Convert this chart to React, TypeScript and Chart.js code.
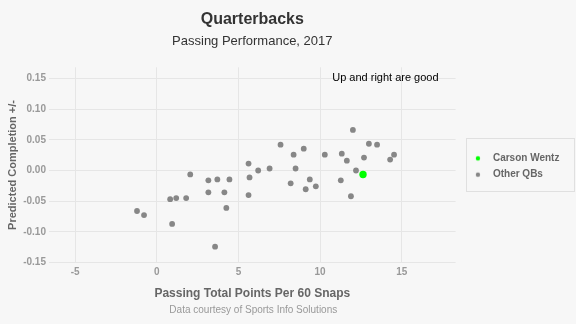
import React, { useEffect, useRef } from 'react';
import { Chart, registerables } from 'chart.js';

Chart.register(...registerables);

// ---- data ----
const otherX = [2.05, 3.16, 3.71, 4.45, 3.16, 4.14, 5.62, 6.21, 5.68, 5.62, 0.82, 1.19, 1.8, -1.21, -0.78, 0.94, 4.26, 3.57,
  12.01, 7.58, 9.0, 8.38, 10.29, 11.33, 11.64, 12.99, 13.49, 12.69, 14.53, 14.29, 12.2, 6.91, 8.5, 8.2, 9.37, 9.12, 9.74, 11.27, 11.89];
const otherY = [-0.0065, -0.016, -0.0145, -0.0145, -0.0355, -0.0355, 0.0113, 0.0, -0.0113, -0.04, -0.0468, -0.045, -0.045, -0.066, -0.0726, -0.087, -0.061, -0.124,
  0.066, 0.042, 0.0355, 0.0258, 0.0258, 0.0274, 0.016, 0.0435, 0.042, 0.021, 0.0258, 0.0177, 0.0, 0.0032, 0.0032, -0.021, -0.0145, -0.0306, -0.0258, -0.016, -0.042];
const wentzX = [12.63];
const wentzY = [-0.0065];
const seriesNames = ['Carson Wentz', 'Other QBs'];
const xTicks = [-5, 0, 5, 10, 15];
const yTicks = [-0.15, -0.1, -0.05, 0, 0.05, 0.1, 0.15];
const titleText = 'Quarterbacks';
const subtitleText = 'Passing Performance, 2017';
const xTitle = 'Passing Total Points Per 60 Snaps';
const yTitle = 'Predicted Completion +/-';
const captionText = 'Data courtesy of Sports Info Solutions';
const noteText = 'Up and right are good';
const notePos = { x: 14, y: 0.15 };

const FONT = "'Liberation Sans', Arial, sans-serif";
const GREEN = '#00ff00';
const GRAY = '#878787';
const LEG_W = 26; // legend marker slot width
const LEG_DOT = LEG_W - 10; // dot centre inside slot

function dotImage(color: string, r: number) {
  const c = document.createElement('canvas');
  c.width = LEG_W;
  c.height = 8;
  const g = c.getContext('2d')!;
  g.fillStyle = color;
  g.beginPath();
  g.arc(LEG_DOT, 4, r, 0, Math.PI * 2);
  g.fill();
  return c;
}

const bgPlugin = {
  id: 'bg',
  beforeDraw(chart: any) {
    const ctx = chart.ctx;
    ctx.save();
    ctx.fillStyle = '#f7f7f7';
    ctx.fillRect(0, 0, chart.width, chart.height);
    ctx.restore();
  },
};

const extrasPlugin = {
  id: 'extras',
  afterDraw(chart: any) {
    const ctx = chart.ctx;
    const ca = chart.chartArea;
    ctx.save();
    // caption
    ctx.fillStyle = '#999999';
    ctx.font = `10px ${FONT}`;
    ctx.textAlign = 'center';
    ctx.textBaseline = 'middle';
    ctx.fillText(captionText, (ca.left + ca.right) / 2 + 1, ca.bottom + 48);
    // note
    const xs = chart.scales.x;
    const ys = chart.scales.y;
    ctx.fillStyle = '#000000';
    ctx.font = `11px ${FONT}`;
    ctx.fillText(noteText, xs.getPixelForValue(notePos.x), ys.getPixelForValue(notePos.y));
    // legend border
    const lg = chart.legend;
    if (lg && lg.legendHitBoxes && lg.legendHitBoxes.length) {
      const hb = lg.legendHitBoxes;
      const first = hb[0];
      const last = hb[hb.length - 1];
      const c0 = first.top + first.height / 2;
      const c1 = last.top + last.height / 2;
      const markerX = first.left + LEG_DOT;
      ctx.strokeStyle = '#e0e0e0';
      ctx.lineWidth = 1;
      const l = Math.round(markerX - 12) + 0.5;
      const t = Math.round(c0 - 20) + 0.5;
      const b = Math.round(c1 + 16) + 0.5;
      ctx.strokeRect(l, t, chart.width - 1.5 - l, b - t);
    }
    ctx.restore();
  },
};

export default function App() {
  const ref = useRef<HTMLCanvasElement | null>(null);
  useEffect(() => {
    document.body.style.margin = '0';
    document.body.style.background = '#f7f7f7';
    const canvas = ref.current!;
    const chart = new Chart(canvas, {
      type: 'scatter',
      data: {
        datasets: [
          {
            label: seriesNames[0],
            data: wentzX.map((x, i) => ({ x, y: wentzY[i] })),
            backgroundColor: GREEN,
            borderColor: GREEN,
            pointRadius: 3.7,
            borderWidth: 0,
          },
          {
            label: seriesNames[1],
            data: otherX.map((x, i) => ({ x, y: otherY[i] })),
            backgroundColor: GRAY,
            borderColor: GRAY,
            pointRadius: 2.9,
            borderWidth: 0,
          },
        ],
      },
      options: {
        responsive: false,
        animation: false,
        devicePixelRatio: 1,
        events: [],
        layout: { padding: { left: 0, right: 6.6, top: 0, bottom: 15 } },
        plugins: {
          tooltip: { enabled: false },
          title: {
            display: true,
            text: titleText,
            fullSize: false,
            color: '#333333',
            font: { family: FONT, size: 16, weight: 'bold' },
            padding: { top: 10, bottom: 4 },
          },
          subtitle: {
            display: true,
            text: subtitleText,
            fullSize: false,
            color: '#333333',
            font: { family: FONT, size: 13, weight: 'normal' },
            padding: { top: 0, bottom: 18.5 },
          },
          legend: {
            display: true,
            position: 'right',
            align: 'center',
            title: { display: true, text: '', font: { size: 10 }, padding: { top: 6, bottom: 6 } },
            labels: {
              usePointStyle: true,
              pointStyleWidth: LEG_W,
              boxHeight: 3,
              padding: 6.3,
              color: '#666666',
              font: { family: FONT, size: 10, weight: 'bold' },
              generateLabels(chart: any) {
                const items = Chart.defaults.plugins.legend.labels.generateLabels(chart);
                return items.map((it: any, i: number) => ({
                  ...it,
                  pointStyle: dotImage(i === 0 ? GREEN : GRAY, 2.2),
                }));
              },
            },
          },
        },
        scales: {
          x: {
            type: 'linear',
            min: -6.6,
            max: 18.3,
            afterBuildTicks(scale: any) {
              scale.ticks = xTicks.map((v) => ({ value: v }));
            },
            grid: { color: '#e6e6e6', lineWidth: 1, drawTicks: false },
            border: { display: false },
            ticks: {
              padding: 4,
              color: '#999999',
              font: { family: FONT, size: 10, weight: 'bold' },
              callback: (v: any) => String(v),
            },
            title: {
              display: true,
              text: xTitle,
              color: '#666666',
              font: { family: FONT, size: 12, weight: 'bold' },
              padding: { top: 4, bottom: 8 },
            },
          },
          y: {
            type: 'linear',
            min: -0.15,
            max: 0.168,
            afterBuildTicks(scale: any) {
              scale.ticks = yTicks.map((v) => ({ value: v }));
            },
            grid: { color: '#e6e6e6', lineWidth: 1, drawTicks: false },
            border: { display: false },
            ticks: {
              padding: 3,
              color: '#999999',
              font: { family: FONT, size: 10, weight: 'bold' },
              callback: (v: any) => Number(v).toFixed(2),
            },
            title: {
              display: true,
              text: yTitle,
              color: '#666666',
              font: { family: FONT, size: 11, weight: 'bold' },
              padding: { top: 6, bottom: 1 },
            },
          },
        },
      },
      plugins: [bgPlugin, extrasPlugin],
    } as any);
    return () => chart.destroy();
  }, []);
  return (
    <div style={{ width: 576, height: 324 }}>
      <canvas ref={ref} width={576} height={324} style={{ display: 'block', width: 576, height: 324 }} />
    </div>
  );
}
